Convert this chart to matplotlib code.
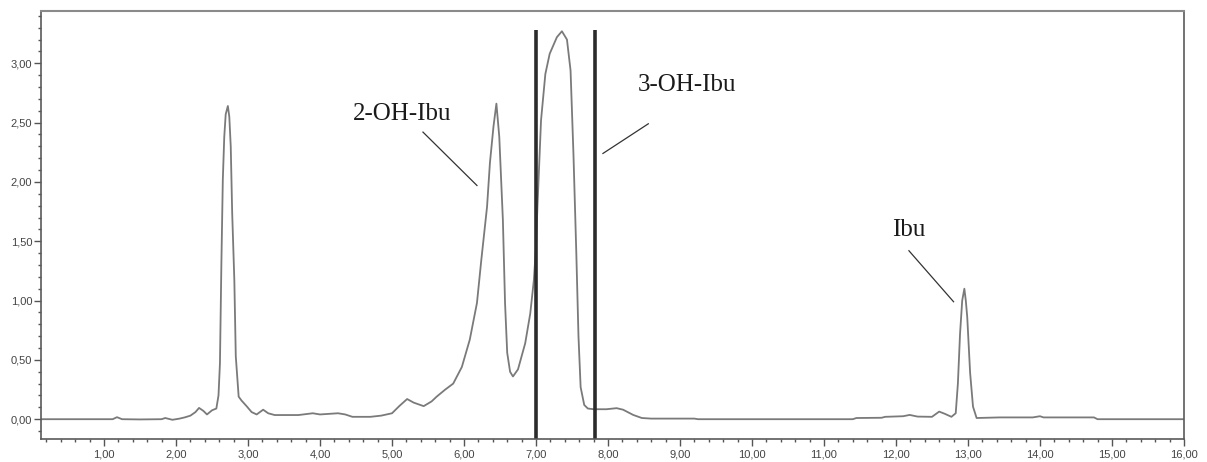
import matplotlib

matplotlib.use("Agg")
import matplotlib.pyplot as plt
from matplotlib.ticker import MultipleLocator

# retention time [min] and detector signal
rt = [
    0.12, 1.0, 1.12, 1.18, 1.25, 1.5, 1.8, 1.85, 1.95, 2.05, 2.12, 2.2, 2.27, 2.32, 2.38, 2.43,
    2.5, 2.56, 2.59, 2.61, 2.63, 2.65, 2.67, 2.69, 2.72, 2.74, 2.76, 2.78, 2.81, 2.83, 2.87,
    2.91, 2.98, 3.05, 3.12, 3.21, 3.28, 3.37, 3.7, 3.9, 4.0, 4.25, 4.35, 4.45, 4.7, 4.85,
    5.0, 5.1, 5.21, 5.3, 5.44, 5.55, 5.62, 5.74, 5.85, 5.97, 6.08, 6.18, 6.24, 6.32, 6.36,
    6.41, 6.45, 6.49, 6.54, 6.57, 6.60, 6.64, 6.68, 6.75, 6.85, 6.92, 6.97, 7.0, 7.02, 7.07,
    7.13, 7.19, 7.29, 7.36, 7.43, 7.48, 7.52, 7.56, 7.59, 7.62, 7.67, 7.72, 7.80, 7.98, 8.12,
    8.21, 8.35, 8.47, 8.6, 9.2, 9.25, 11.4, 11.45, 11.8, 11.85, 12.1, 12.19, 12.3, 12.5, 12.6,
    12.68, 12.77, 12.83, 12.86, 12.89, 12.92, 12.95, 12.97, 12.99, 13.03, 13.07, 13.12, 13.44,
    13.9, 14.0, 14.05, 14.75, 14.8, 16.0,
]
signal = [
    0.0, 0.0, 0.0, 0.017, 0.0, -0.002, 0.0, 0.01, -0.005, 0.005, 0.015, 0.03, 0.06, 0.095, 0.07, 0.04,
    0.075, 0.09, 0.2, 0.47, 1.31, 2.02, 2.38, 2.57, 2.64, 2.55, 2.30, 1.74, 1.17, 0.53, 0.19,
    0.157, 0.11, 0.06, 0.04, 0.08, 0.05, 0.035, 0.035, 0.05, 0.04, 0.05, 0.04, 0.02, 0.02, 0.03,
    0.05, 0.11, 0.17, 0.14, 0.11, 0.15, 0.19, 0.25, 0.30, 0.44, 0.67, 0.98, 1.34, 1.79, 2.16,
    2.47, 2.66, 2.38, 1.68, 0.98, 0.56, 0.40, 0.36, 0.42, 0.64, 0.89, 1.17, 1.45, 1.79, 2.52,
    2.91, 3.08, 3.22, 3.27, 3.20, 2.94, 2.24, 1.40, 0.70, 0.27, 0.12, 0.09, 0.084, 0.084, 0.093,
    0.08, 0.036, 0.01, 0.005, 0.005, 0.0, 0.0, 0.01, 0.012, 0.02, 0.025, 0.036, 0.022, 0.02, 0.064,
    0.045, 0.02, 0.05, 0.30, 0.72, 1.0, 1.10, 1.0, 0.86, 0.39, 0.106, 0.01, 0.015,
    0.015, 0.025, 0.015, 0.015, 0.0, 0.0,
]

# integration window markers
window_rt = [7.0, 7.82]
window_top = 3.28

x_ticks = list(range(1, 17))
x_tick_labels = [f"{v},00" for v in x_ticks]
y_ticks = [0.0, 0.5, 1.0, 1.5, 2.0, 2.5, 3.0]
y_tick_labels = ["0,00", "0,50", "1,00", "1,50", "2,00", "2,50", "3,00"]

# peak labels: text, text position (left, baseline), leader line start, leader line end
peak_names = ["2-OH-Ibu", "3-OH-Ibu", "Ibu"]
label_xy = [(4.46, 2.52), (8.42, 2.77), (11.94, 1.54)]
leader_from = [(5.43, 2.42), (8.56, 2.49), (12.18, 1.42)]
leader_to = [(6.18, 1.97), (7.93, 2.24), (12.80, 0.99)]

fig = plt.figure(figsize=(12.07, 4.62), dpi=100)
ax = fig.add_axes([0.0337, 0.049, 0.9472, 0.927])

ax.plot(rt, signal, color="#7a7a7a", linewidth=1.3)
ax.vlines(window_rt, -0.2, window_top, color="#2b2b2b", linewidth=2.6)

for name, (tx, ty), p0, p1 in zip(peak_names, label_xy, leader_from, leader_to):
    ax.text(tx, ty, name, ha="left", va="baseline", fontsize=18, family="Liberation Serif", color="#1a1a1a")
    ax.plot([p0[0], p1[0]], [p0[1], p1[1]], color="#333333", linewidth=0.9)

ax.set_xlim(0.12, 16.0)
ax.set_ylim(-0.17, 3.44)

ax.set_xticks(x_ticks)
ax.set_xticklabels(x_tick_labels)
ax.set_yticks(y_ticks)
ax.set_yticklabels(y_tick_labels)
ax.xaxis.set_minor_locator(MultipleLocator(0.2))
ax.yaxis.set_minor_locator(MultipleLocator(0.1))

for lbl in ax.get_xticklabels() + ax.get_yticklabels():
    lbl.set_family("Liberation Sans")

ax.tick_params(which="major", direction="out", length=5, width=1.0, color="#555555",
               labelsize=8, labelcolor="#444444", pad=2)
ax.tick_params(which="minor", direction="out", length=2.5, width=1.0, color="#555555")
ax.tick_params(axis="y", which="major", pad=1)

for side in ["left", "bottom", "right"]:
    ax.spines[side].set_color("#5a5a5a")
    ax.spines[side].set_linewidth(1.2)
ax.spines["top"].set_color("#8a8a8a")
ax.spines["top"].set_linewidth(1.5)

fig.savefig("out.png", dpi=100)
